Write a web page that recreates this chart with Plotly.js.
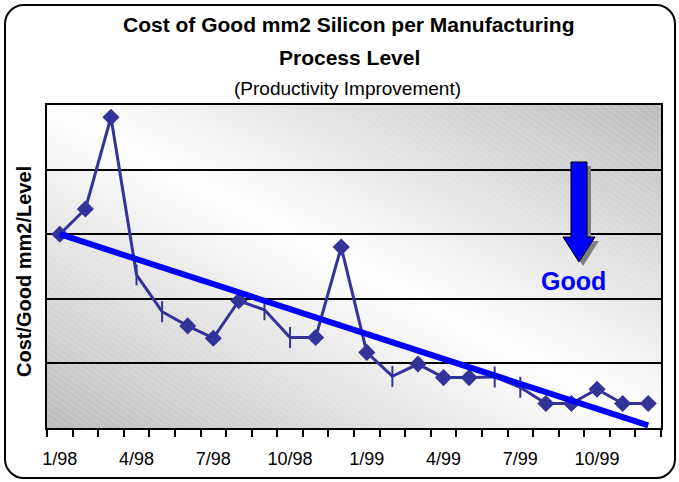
<!DOCTYPE html>
<html>
<head>
<meta charset="utf-8">
<script src="https://cdn.plot.ly/plotly-3.0.1.min.js"></script>
<style>
  html, body { margin: 0; padding: 0; background: #ffffff; }
  #wrap { position: relative; width: 679px; height: 482px; }
  #chart { position: absolute; left: 0; top: 0; width: 679px; height: 482px; }
  #frame { position: absolute; left: 4px; top: 4px; width: 668px; height: 471px;
           border: 2px solid #000; border-radius: 20px; pointer-events: none; }
</style>
</head>
<body>
<div id="wrap"><div id="chart"></div><div id="frame"></div></div>
<script>
// ---- data ----
const months = ['1/98','2/98','3/98','4/98','5/98','6/98','7/98','8/98','9/98','10/98','11/98','12/98',
                '1/99','2/99','3/99','4/99','5/99','6/99','7/99','8/99','9/99','10/99','11/99','12/99'];
const costPerLevel = [3.00, 3.39, 4.81, 2.37, 1.80, 1.58, 1.39, 1.97, 1.83, 1.40, 1.40, 2.80,
                      1.17, 0.80, 0.99, 0.78, 0.78, 0.79, 0.63, 0.38, 0.38, 0.60, 0.38, 0.38];
const pointMarkers = ['diamond','diamond','diamond','line-ns','line-ns','diamond','diamond','diamond','line-ns','line-ns','diamond','diamond',
                      'diamond','line-ns','diamond','diamond','diamond','line-ns','line-ns','diamond','diamond','diamond','diamond','diamond'];
const trendMonths = ['1/98','12/99'];
const trendValues = [3.00, 0.04];
const tickLabels = ['1/98','4/98','7/98','10/98','1/99','4/99','7/99','10/99'];
const yTicks = [0, 1, 2, 3, 4, 5];

// ---- build ----
const xIdx = months.map((m, i) => i);
const trendX = trendMonths.map(m => months.indexOf(m));
const tickPos = tickLabels.map(m => months.indexOf(m));
const boundaries = [];
for (let i = 0; i <= months.length; i++) boundaries.push(i - 0.5);
const sizes = pointMarkers.map(s => s === 'diamond' ? 11 : 15);

const W = 614, H = 323;
const svg = "<svg xmlns='http://www.w3.org/2000/svg' width='" + W + "' height='" + H + "' viewBox='0 0 " + W + " " + H + "' preserveAspectRatio='none'>" +
  "<defs><linearGradient id='g' x1='0' y1='1' x2='1' y2='0'>" +
  "<stop offset='0' stop-color='#bcbcbc'/><stop offset='0.5' stop-color='#ffffff'/><stop offset='1' stop-color='#bcbcbc'/></linearGradient>" +
  "<pattern id='h' width='5' height='5' patternUnits='userSpaceOnUse' patternTransform='rotate(35)'>" +
  "<line x1='0' y1='0' x2='5' y2='0' stroke='#ffffff' stroke-opacity='0.35' stroke-width='1'/></pattern></defs>" +
  "<rect x='0' y='0' width='" + W + "' height='" + H + "' fill='url(#g)'/>" +
  "<rect x='0' y='0' width='" + W + "' height='" + H + "' fill='url(#h)'/></svg>";
const bgSrc = 'data:image/svg+xml;charset=utf-8,' + encodeURIComponent(svg);

const dataTrace = {
  x: xIdx, y: costPerLevel, type: 'scatter', mode: 'lines+markers', opacity: 1,
  line: { color: '#333399', width: 3 },
  marker: { symbol: pointMarkers, size: sizes, color: '#333399', opacity: 1, line: { color: '#333399', width: 2 } },
  hoverinfo: 'skip', showlegend: false, cliponaxis: false
};
const trendTrace = {
  x: trendX, y: trendValues, type: 'scatter', mode: 'lines', opacity: 1,
  line: { color: '#0000ff', width: 6 }, hoverinfo: 'skip', showlegend: false
};

// arrow (paper coords)
function px(x) { return (x - 47) / 614; }
function py(y) { return (428 - y) / 323; }
function arrowPath(dx, dy) {
  const pts = [[571, 162], [587, 162], [587, 237], [595, 237], [579, 262], [563, 237], [571, 237]];
  return 'M ' + pts.map(p => px(p[0] + dx).toFixed(4) + ',' + py(p[1] + dy).toFixed(4)).join(' L ') + ' Z';
}

const layout = {
  width: 679, height: 482,
  margin: { l: 47, r: 18, t: 105, b: 54 },
  paper_bgcolor: 'rgba(0,0,0,0)', plot_bgcolor: 'rgba(0,0,0,0)',
  font: { family: 'Liberation Sans, Arial, sans-serif', color: '#000' },
  xaxis: {
    range: [-0.5, months.length - 0.5], tickmode: 'array', tickvals: tickPos, ticktext: tickLabels,
    ticks: '', ticklen: 0, ticklabelstandoff: 13, tickfont: { size: 18, color: '#000' },
    showgrid: false, zeroline: false, showline: true, mirror: true, linecolor: '#000', linewidth: 2,
    minor: { tickmode: 'array', tickvals: boundaries, ticks: 'outside', ticklen: 7, tickwidth: 2, tickcolor: '#000', showgrid: false }
  },
  yaxis: {
    range: [0, 5], tickmode: 'array', tickvals: yTicks, showticklabels: false, ticks: '',
    showgrid: true, gridcolor: '#000', gridwidth: 2, zeroline: false,
    showline: true, mirror: true, linecolor: '#000', linewidth: 2
  },
  images: [{ source: bgSrc, xref: 'paper', yref: 'paper', x: 0, y: 1, sizex: 1, sizey: 1,
             xanchor: 'left', yanchor: 'top', sizing: 'stretch', layer: 'below' }],
  shapes: [
    { type: 'path', xref: 'paper', yref: 'paper', path: arrowPath(4, 4), fillcolor: '#808080', line: { width: 0 } },
    { type: 'path', xref: 'paper', yref: 'paper', path: arrowPath(0, 0), fillcolor: '#0000ff', line: { color: '#000', width: 1 } }
  ],
  annotations: [
    { text: '<b>Cost of Good mm2 Silicon per Manufacturing</b>', xref: 'paper', yref: 'paper', x: px(349), y: py(24), showarrow: false,
      xanchor: 'center', yanchor: 'middle', font: { size: 21, color: '#000' } },
    { text: '<b>Process Level</b>', xref: 'paper', yref: 'paper', x: px(349), y: py(57), showarrow: false,
      xanchor: 'center', yanchor: 'middle', font: { size: 21, color: '#000' } },
    { text: '(Productivity Improvement)', xref: 'paper', yref: 'paper', x: px(347), y: py(88), showarrow: false,
      xanchor: 'center', yanchor: 'middle', font: { size: 19, color: '#000' } },
    { text: '<b>Cost/Good mm2/Level</b>', xref: 'paper', yref: 'paper', x: px(24), y: py(272), showarrow: false,
      xanchor: 'center', yanchor: 'middle', textangle: -90, font: { size: 20, color: '#000' } },
    { text: '<b>Good</b>', xref: 'paper', yref: 'paper', x: px(573), y: py(281), showarrow: false,
      xanchor: 'center', yanchor: 'middle', font: { size: 25, color: '#0000ff' } }
  ]
};

Plotly.newPlot('chart', [dataTrace, trendTrace], layout, { staticPlot: true, displayModeBar: false });
</script>
</body>
</html>
